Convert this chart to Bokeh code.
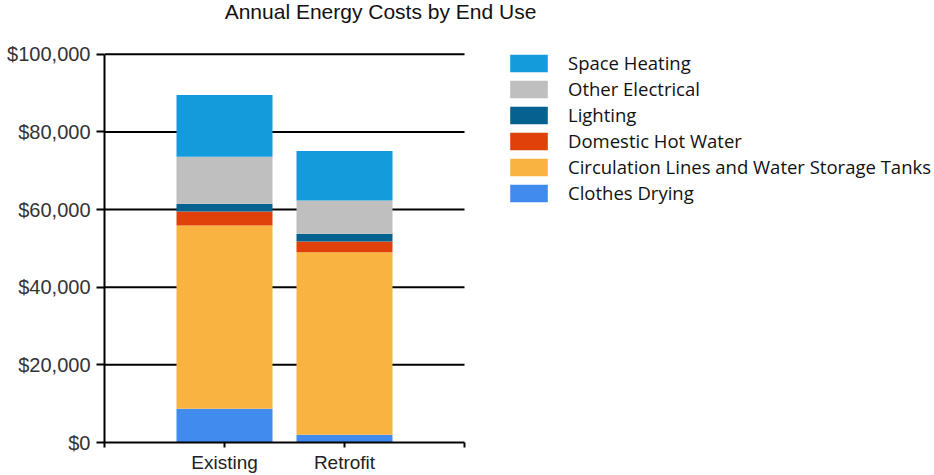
from bokeh.plotting import figure
from bokeh.models import ColumnDataSource, FixedTicker, NumeralTickFormatter, Legend, LegendItem, Label, Range1d
from bokeh.embed import file_html
from bokeh.resources import INLINE

title_text = "Annual Energy Costs by End Use"
categories = ["Existing", "Retrofit"]

# stack order, bottom to top
end_uses = ["Clothes Drying", "Circulation Lines and Water Storage Tanks",
            "Domestic Hot Water", "Lighting", "Other Electrical", "Space Heating"]
clothes_drying = [8700, 2000]
circulation = [47200, 47000]
domestic_hot_water = [3600, 2800]
lighting = [2000, 2000]
other_electrical = [12100, 8500]
space_heating = [15900, 12800]

colors = ["#418BEF", "#F9B340", "#E0410B", "#05618F", "#BFBFBF", "#139BDC"]
y_ticks = [0, 20000, 40000, 60000, 80000, 100000]

W, H = 934, 475
LEFT, BOTTOM = 104, 31
AXIS_W, AXIS_H = 360, 390          # pixel size of the drawn axes area
x_end = len(categories) + 1
y_end = y_ticks[-1]

xpos = list(range(1, len(categories) + 1))
src = ColumnDataSource(dict(
    x=xpos,
    c0=clothes_drying, c1=circulation, c2=domestic_hot_water,
    c3=lighting, c4=other_electrical, c5=space_heating,
))
keys = ["c0", "c1", "c2", "c3", "c4", "c5"]

frame_w = W - LEFT
frame_h = H - BOTTOM
p = figure(width=W, height=H,
           x_range=Range1d(0, x_end * frame_w / AXIS_W),
           y_range=Range1d(0, y_end * frame_h / AXIS_H),
           output_backend="svg", toolbar_location=None, title=None,
           min_border_left=LEFT, min_border_right=0,
           min_border_top=0, min_border_bottom=BOTTOM)
p.outline_line_color = None
p.background_fill_color = "white"
p.border_fill_color = "white"
p.xgrid.visible = False
p.ygrid.visible = False

# horizontal gridlines limited to the axes area
grid_y = y_ticks[1:]
p.segment(x0=[0] * len(grid_y), x1=[x_end] * len(grid_y), y0=grid_y, y1=grid_y,
          line_color="black", line_width=2)

renderers = p.vbar_stack(keys, x="x", width=0.8, color=colors, line_color=None, source=src)

# axes
xt = list(range(0, x_end + 1))
p.xaxis.ticker = FixedTicker(ticks=xt)
p.xaxis.bounds = (0, x_end)
overrides = {t: "" for t in xt}
for i, c in enumerate(categories):
    overrides[i + 1] = c
p.xaxis.major_label_overrides = overrides
p.xaxis.minor_tick_line_color = None
p.xaxis.axis_line_color = "black"
p.xaxis.axis_line_width = 2
p.xaxis.major_tick_line_color = "black"
p.xaxis.major_tick_line_width = 2
p.xaxis.major_tick_in = 0
p.xaxis.major_tick_out = 5
p.xaxis.major_label_standoff = 4
p.xaxis.major_label_text_font = "Liberation Sans"
p.xaxis.major_label_text_font_size = "19px"
p.xaxis.major_label_text_color = "#222222"

p.yaxis.ticker = FixedTicker(ticks=y_ticks)
p.yaxis.formatter = NumeralTickFormatter(format="$0,0")
p.yaxis.bounds = (y_ticks[0], y_end)
p.yaxis.minor_tick_line_color = None
p.yaxis.axis_line_color = "black"
p.yaxis.axis_line_width = 2
p.yaxis.major_tick_line_color = "black"
p.yaxis.major_tick_line_width = 2
p.yaxis.major_tick_in = 0
p.yaxis.major_tick_out = 8
p.yaxis.major_label_standoff = 6
p.yaxis.major_label_text_font = "Liberation Sans"
p.yaxis.major_label_text_font_size = "20px"
p.yaxis.major_label_text_color = "#333333"

# title
p.add_layout(Label(x=276, y=frame_h - 1, x_units="screen", y_units="screen",
                   text=title_text, text_align="center", text_baseline="top",
                   text_font="Liberation Sans", text_font_size="21px", text_color="#111111"))

# legend, top of stack first
items = [LegendItem(label=end_uses[i], renderers=[renderers[i]]) for i in reversed(range(len(end_uses)))]
legend = Legend(items=items, location=(401, 237), orientation="vertical",
                glyph_width=47, glyph_height=22, label_standoff=16, spacing=1,
                padding=0, margin=0, border_line_alpha=0, background_fill_alpha=0,
                label_text_font="Open Sans", label_text_font_size="18.5px",
                label_text_color="#111111", label_height=18)
p.add_layout(legend, "center")

open("out.html", "w").write(file_html(p, INLINE))
